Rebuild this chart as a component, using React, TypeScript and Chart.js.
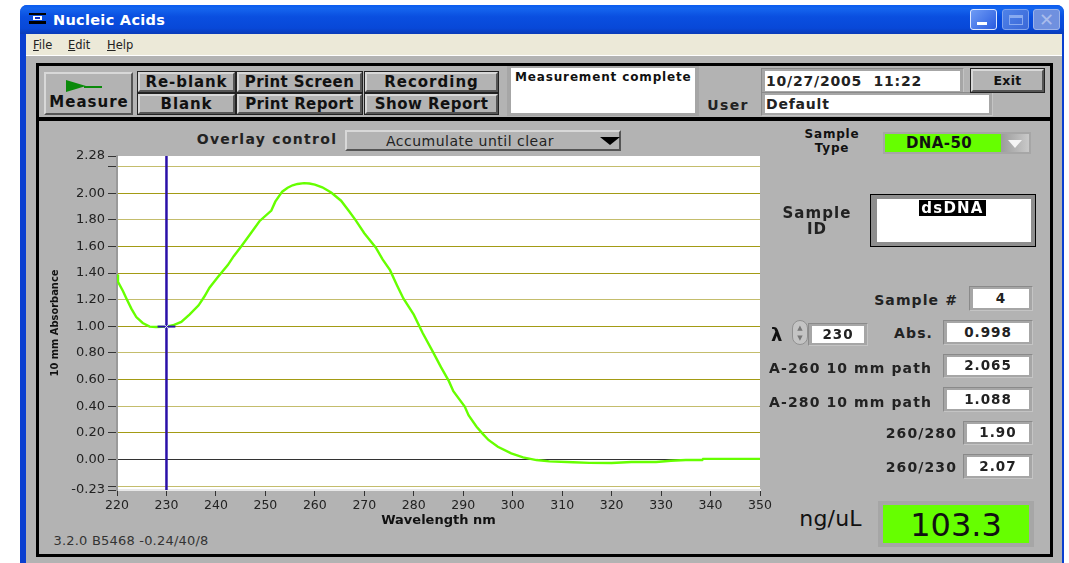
import React, { useEffect, useRef } from "react";
import { Chart, registerables } from "chart.js";

Chart.register(...registerables);

const wavelengths = [220, 220.2, 221.2, 221.9, 222.9, 223.9, 225.2, 226.6, 227.9, 230, 231.3, 233, 234.7, 236.5, 237.7, 238.7, 240.4, 242.4, 243.6, 245.1, 246.8, 248.8, 251.2, 252, 253.4, 254.5, 255.5, 256.5, 257.8, 258.9, 260, 261.5, 263.3, 265.3, 267, 268.2, 270, 272.3, 273.7, 275.2, 276.6, 277.9, 280, 281.8, 283.9, 285.5, 287.1, 288, 290.3, 291.1, 292.7, 294, 295.1, 297, 299.7, 302.1, 304.8, 307.4, 312.2, 315.5, 320, 324, 329, 332, 335, 338.3, 338.5, 344, 350];
const absorbance = [1.39, 1.334, 1.266, 1.21, 1.133, 1.07, 1.025, 0.998, 0.995, 0.998, 1.008, 1.033, 1.09, 1.158, 1.226, 1.29, 1.37, 1.46, 1.527, 1.6, 1.686, 1.79, 1.87, 1.937, 2.012, 2.042, 2.06, 2.07, 2.076, 2.073, 2.065, 2.045, 2.005, 1.944, 1.861, 1.8, 1.7, 1.593, 1.503, 1.422, 1.309, 1.209, 1.088, 0.95, 0.806, 0.693, 0.588, 0.512, 0.397, 0.33, 0.246, 0.19, 0.146, 0.095, 0.045, 0.015, -0.005, -0.015, -0.022, -0.026, -0.027, -0.02, -0.02, -0.01, -0.005, -0.005, 0.004, 0.004, 0.004];
const cursorWavelength = 230;
const cursorAbsorbance = 0.998;
const cursorArm = [228.2, 231.8];
const xTicks = [220, 230, 240, 250, 260, 270, 280, 290, 300, 310, 320, 330, 340, 350];
const yTicks = [2.28, 2.2, 2, 1.8, 1.6, 1.4, 1.2, 1, 0.8, 0.6, 0.4, 0.2, 0, -0.2, -0.23];
const yUnlabelled = [2.2, -0.2];
const yLightGrid = [2.2, 1.8, 1.2, 0.8, 0.4, -0.2];
const yHidden = [2.28, -0.23];

const sans = '"DejaVu Sans", sans-serif';

type TP = { x: number; y: number; s?: number; b?: boolean; ls?: number; col?: string; children: React.ReactNode; r?: number };
function T({ x, y, s = 13, b = true, ls = 0, col = "#111", children, r }: TP) {
  const st: React.CSSProperties = {
    position: "absolute", top: y, fontFamily: sans, fontSize: s, fontWeight: b ? 700 : 400, color: col,
    letterSpacing: ls, whiteSpace: "nowrap", lineHeight: 1, transform: r !== undefined ? "translate(-100%,-50%)" : "translate(-50%,-50%)",
    left: x,
  };
  return <div style={st}>{children}</div>;
}

function Box({ x, y, w, h, bg, style, children }: { x: number; y: number; w: number; h: number; bg: string; style?: React.CSSProperties; children?: React.ReactNode }) {
  return <div style={{ position: "absolute", left: x, top: y, width: w, height: h, background: bg, boxSizing: "border-box", ...style }}>{children}</div>;
}

const raised: React.CSSProperties = { borderTop: "2px solid #d8d8d8", borderLeft: "2px solid #d8d8d8", borderRight: "2px solid #555", borderBottom: "2px solid #555" };

function Btn({ x, y, w, h, label, s = 15, ls = 1, dark = true }: { x: number; y: number; w: number; h: number; label: string; s?: number; ls?: number; dark?: boolean }) {
  return (
    <>
      <Box x={x - 1} y={y - 1} w={w + 2} h={h + 2} bg={dark ? "#222" : "transparent"} />
      <Box x={x} y={y} w={w} h={h} bg="#b3b3b3" style={raised} />
      <T x={x + w / 2} y={y + h / 2} s={s} ls={ls}>{label}</T>
    </>
  );
}

function Field({ x, y, w, h, text, s = 13.5, align = "center", ls = 1 }: { x: number; y: number; w: number; h: number; text: string; s?: number; align?: string; ls?: number }) {
  return (
    <>
      <Box x={x - 4} y={y - 3} w={w + 8} h={h + 6} bg="#a6a6a6" style={{ borderTop: "1px solid #8a8a8a", borderLeft: "1px solid #8a8a8a", borderRight: "1px solid #c4c4c4", borderBottom: "1px solid #c4c4c4" }} />
      <Box x={x} y={y} w={w} h={h} bg="#fff" />
      {align === "center" ? (
        <T x={x + w / 2} y={y + h / 2} s={s} ls={ls} col="#222">{text}</T>
      ) : (
        <div style={{ position: "absolute", left: x + 1, top: y + h / 2, transform: "translateY(-50%)", fontFamily: sans, fontWeight: 700, fontSize: s, letterSpacing: ls, color: "#222", lineHeight: 1, whiteSpace: "pre" }}>{text}</div>
      )}
    </>
  );
}

function Menu({ x, first, rest }: { x: number; first: string; rest: string }) {
  return (
    <div style={{ position: "absolute", left: x, top: 39, fontFamily: sans, fontSize: 11.5, lineHeight: "12px", color: "#222" }}>
      <span style={{ textDecoration: "underline" }}>{first}</span>{rest}
    </div>
  );
}

function AbsorbanceChart() {
  const ref = useRef<HTMLCanvasElement | null>(null);
  useEffect(() => {
    if (!ref.current) return;
    const chart = new Chart(ref.current, {
      type: "line",
      data: {
        datasets: [
          { data: [{ x: cursorWavelength, y: cursorAbsorbance }], showLine: false, pointStyle: "crossRot", pointRadius: 3, pointBorderWidth: 1, pointBorderColor: "#dfe8ff", order: 0 },
          { data: cursorArm.map((x) => ({ x, y: cursorAbsorbance })), borderColor: "#2a10a8", borderWidth: 2, pointRadius: 0, order: 2 },
          { data: wavelengths.map((x, i) => ({ x, y: absorbance[i] })), borderColor: "#66ff00", borderWidth: 2.4, pointRadius: 0, tension: 0, order: 3 },
          { data: [{ x: cursorWavelength, y: yTicks[yTicks.length - 1] }, { x: cursorWavelength, y: yTicks[0] }], borderColor: "#2a10a8", borderWidth: 2.5, pointRadius: 0, order: 1 },
        ],
      },
      options: {
        animation: false,
        responsive: false,
        parsing: false as any,
        layout: { padding: { top: 26, right: 30, bottom: 0, left: 0 } },
        plugins: { legend: { display: false }, tooltip: { enabled: false } },
        scales: {
          x: {
            type: "linear", min: 220, max: 350,
            afterBuildTicks: (a: any) => { a.ticks = xTicks.map((value) => ({ value })); },
            afterFit: (a: any) => { a.height = 38; },
            ticks: { color: "#222", font: { family: sans, size: 12.5 }, padding: 2, maxRotation: 0, autoSkip: false },
            grid: { drawOnChartArea: false, drawTicks: true, tickLength: 6, tickColor: "#333", color: "#333" },
            border: { color: "#e8e8e8", width: 2 },
            title: { display: true, text: "Wavelength nm", color: "#111", font: { family: sans, size: 13, weight: "bold" }, padding: { top: 0, bottom: 0 } },
          },
          y: {
            type: "linear", min: -0.23, max: 2.28,
            afterBuildTicks: (a: any) => { a.ticks = yTicks.map((value) => ({ value })); },
            afterFit: (a: any) => { a.width = 77; },
            ticks: {
              color: "#222", font: { family: sans, size: 13 }, padding: 3, autoSkip: false,
              callback: (v: any) => (yUnlabelled.includes(Number(v)) ? "" : Number(v).toFixed(2)),
            },
            grid: {
              drawTicks: true, tickLength: 9, tickColor: "#333",
              color: (c: any) => {
                const v = c.tick?.value;
                if (yHidden.includes(v)) return "rgba(0,0,0,0)";
                if (v === 0) return "#333";
                return yLightGrid.includes(v) ? "#c4bd6c" : "#a39b14";
              },
            },
            border: { color: "#9a9a9a", width: 2 },
            title: { display: true, text: "10 mm Absorbance", color: "#111", font: { family: '"DejaVu Sans Condensed", "Liberation Sans Narrow", sans-serif', size: 11, weight: "bold" }, padding: { top: 9, bottom: 0 } },
          },
        },
      },
      plugins: [
        {
          id: "plotBg",
          beforeDraw(c: any) {
            const { left, top, width, height } = c.chartArea;
            c.ctx.save();
            c.ctx.fillStyle = "#fff";
            c.ctx.fillRect(left, top, width, height);
            c.ctx.restore();
          },
        },
      ],
    } as any);
    return () => chart.destroy();
  }, []);
  return <canvas ref={ref} width={750} height={398} style={{ position: "absolute", left: 40, top: 130, width: 750, height: 398 }} />;
}

const sideLabels: [string, number, number][] = [
  ["Sample #", 958, 300],
  ["Abs.", 933, 333],
  ["A-260 10 mm path", 932, 368],
  ["A-280 10 mm path", 932, 402],
  ["260/280", 957, 433],
  ["260/230", 957, 467],
];
const sideFields: [string, number, number, number, number][] = [
  ["4", 973, 289, 56, 19],
  ["0.998", 947, 323, 82, 19],
  ["2.065", 947, 357, 82, 18],
  ["1.088", 947, 390, 82, 19],
  ["1.90", 967, 424, 62, 18],
  ["2.07", 967, 457, 62, 19],
];

export default function App() {
  return (
    <div style={{ position: "fixed", left: 0, top: 0, width: 1069, height: 563, background: "#fff", overflow: "hidden", filter: "blur(0.4px)" }}>
      {/* window frame */}
      <Box x={20} y={5} w={1044} h={570} bg="#0a3fd0" style={{ borderRadius: "7px 7px 0 0" }} />
      <Box x={20} y={5} w={1044} h={29} bg="linear-gradient(#0a5cf0 0%, #1565ee 12%, #0a4fe0 40%, #0848d8 80%, #0a3bb8 100%)" style={{ borderRadius: "7px 7px 0 0" }} />
      <Box x={26} y={34} w={1036} h={22} bg="#ece9d8" />
      <Box x={26} y={55} w={1036} h={520} bg="#b3b3b3" style={{ borderTop: "1px solid #fff" }} />
      {/* title bar */}
      <Box x={29} y={13} w={17} h={2} bg="#000" />
      <Box x={33} y={16} w={9} h={4} bg="#fff" />
      <Box x={35} y={17} w={5} h={2} bg="#1030c0" />
      <Box x={29} y={21} w={17} h={3} bg="#000" />
      <div style={{ position: "absolute", left: 53, top: 13, fontFamily: sans, fontWeight: 700, fontSize: 14.5, lineHeight: "15px", letterSpacing: 0.3, color: "#fff", whiteSpace: "nowrap" }}>Nucleic Acids</div>
      <Box x={970} y={9} w={27} h={21} bg="linear-gradient(135deg,#6f9cf5,#2a5ce0)" style={{ border: "1px solid #dfe8ff", borderRadius: 3 }}>
        <div style={{ position: "absolute", left: 6, top: 12, width: 10, height: 3, background: "#fff" }} />
      </Box>
      <Box x={1002} y={9} w={27} h={21} bg="linear-gradient(135deg,#4f82e8,#3a68d8)" style={{ border: "1px solid #7fa2ec", borderRadius: 3 }}>
        <div style={{ position: "absolute", left: 6, top: 5, width: 14, height: 10, boxSizing: "border-box", border: "1px solid #88aaf0", borderTop: "3px solid #88aaf0" }} />
      </Box>
      <Box x={1033} y={9} w={27} h={21} bg="#6f90df" style={{ border: "1px solid #9db4ea", borderRadius: 3 }}>
        <div style={{ position: "absolute", left: 5, top: 0, fontFamily: sans, fontSize: 18, lineHeight: "19px", color: "#a9bcec" }}>✕</div>
      </Box>
      <Menu x={33} first="F" rest="ile" />
      <Menu x={68} first="E" rest="dit" />
      <Menu x={107} first="H" rest="elp" />
      {/* black frame */}
      <Box x={36} y={63} w={1017} h={494} bg="transparent" style={{ border: "3px solid #000" }} />
      <Box x={39} y={117} w={1012} h={4} bg="#000" />
      {/* toolbar */}
      <Btn x={44} y={72} w={89} h={43} label="" dark={false} />
      <div style={{ position: "absolute", left: 66, top: 80, width: 0, height: 0, borderTop: "6.5px solid transparent", borderBottom: "6.5px solid transparent", borderLeft: "20px solid #0a8a0a" }} />
      <Box x={84} y={85.5} w={18} h={2} bg="#0a8a0a" />
      <T x={89} y={102} s={15} ls={1}>Measure</T>
      <Btn x={138} y={72} w={97} h={20} label="Re-blank" ls={0.9} />
      <Btn x={138} y={94} w={97} h={20} label="Blank" ls={0.9} />
      <Btn x={237} y={72} w={125} h={20} label="Print Screen" ls={0.4} />
      <Btn x={237} y={94} w={125} h={20} label="Print Report" ls={0.4} />
      <Btn x={365} y={72} w={133} h={20} label="Recording" ls={1} />
      <Btn x={365} y={94} w={133} h={20} label="Show Report" ls={0.5} />
      <Box x={507} y={66} w={192} h={50} bg="#a6a6a6" />
      <Box x={511} y={68} w={184} h={45} bg="#fff" />
      <div style={{ position: "absolute", left: 515, top: 71, fontFamily: sans, fontWeight: 700, fontSize: 12, lineHeight: "13px", letterSpacing: 0.85, color: "#111", whiteSpace: "nowrap" }}>Measurement complete</div>
      <T x={728} y={105} s={14} ls={1.3} col="#222">User</T>
      <Field x={765} y={71} w={195} h={20} text="10/27/2005  11:22" align="left" s={14} ls={0.8} />
      <Field x={765} y={95} w={224} h={18} text="Default" align="left" s={14} ls={0.8} />
      <Btn x={971} y={69} w={73} h={23} label="Exit" s={12.5} ls={0.3} />
      {/* overlay control */}
      <T x={267} y={139} s={14} ls={1.3} col="#222">Overlay control</T>
      <Box x={345} y={130} w={276} h={21} bg="#b3b3b3" style={raised} />
      <T x={470} y={141} s={14} b={false} ls={0.5} col="#222">Accumulate until clear</T>
      <div style={{ position: "absolute", left: 600, top: 137, width: 0, height: 0, borderLeft: "10px solid transparent", borderRight: "10px solid transparent", borderTop: "8px solid #000" }} />
      <AbsorbanceChart />
      <T x={131} y={540} s={13} b={false} ls={0.2} col="#333">3.2.0 B5468 -0.24/40/8</T>
      {/* sample type */}
      <T x={832} y={134} s={12} ls={0.8}>Sample</T>
      <T x={832} y={148} s={12} ls={0.8}>Type</T>
      <Box x={883} y={132} w={148} h={22} bg="#a6a6a6" />
      <Box x={885} y={134} w={116} h={18} bg="#66ff00" />
      <T x={939} y={143} s={15} ls={0.4}>DNA-50</T>
      <Box x={1001} y={134} w={28} h={18} bg="linear-gradient(90deg,#9c9c9c,#c9c9c9)" />
      <div style={{ position: "absolute", left: 1008, top: 140, width: 0, height: 0, borderLeft: "7px solid transparent", borderRight: "7px solid transparent", borderTop: "8px solid #f4f4f4" }} />
      {/* sample id */}
      <T x={817} y={213} s={15} ls={1.1} col="#222">Sample</T>
      <T x={817} y={229} s={15} ls={1.1} col="#222">ID</T>
      <Box x={870} y={194} w={166} h={53} bg="#8e8e8e" style={{ border: "1px solid #000" }} />
      <Box x={877} y={199} w={154} h={43} bg="#fff" />
      <Box x={919} y={200} w={67} h={16} bg="#000" />
      <T x={952.5} y={208} s={15} col="#fff" ls={1.2}>dsDNA</T>
      {/* readouts */}
      {sideLabels.map(([t, x, y]) => <T key={t} x={x} y={y} r={1} s={14} ls={1.1} col="#222">{t}</T>)}
      {sideFields.map(([t, x, y, w, h]) => <Field key={t} x={x} y={y} w={w} h={h} text={t} />)}
      <div style={{ position: "absolute", left: 771, top: 325, fontFamily: sans, fontWeight: 700, fontSize: 18, lineHeight: "20px", color: "#111" }}>λ</div>
      <Box x={792} y={320} w={16} h={25} bg="#c4c4c4" style={{ borderRadius: 8, border: "1px solid #909090" }} />
      <T x={800} y={328} s={7} b={false} col="#777">▲</T>
      <T x={800} y={338} s={7} b={false} col="#777">▼</T>
      <Field x={812} y={326} w={52} h={17} text="230" />
      {/* concentration */}
      <T x={830.5} y={519} s={22} b={false} ls={0.2} col="#111">ng/uL</T>
      <Box x={878} y={501} w={156} h={46} bg="#a6a6a6" />
      <Box x={883} y={505} w={146} h={38} bg="#66ff00" />
      <T x={956} y={525} s={32} b={false} col="#111">103.3</T>
    </div>
  );
}
